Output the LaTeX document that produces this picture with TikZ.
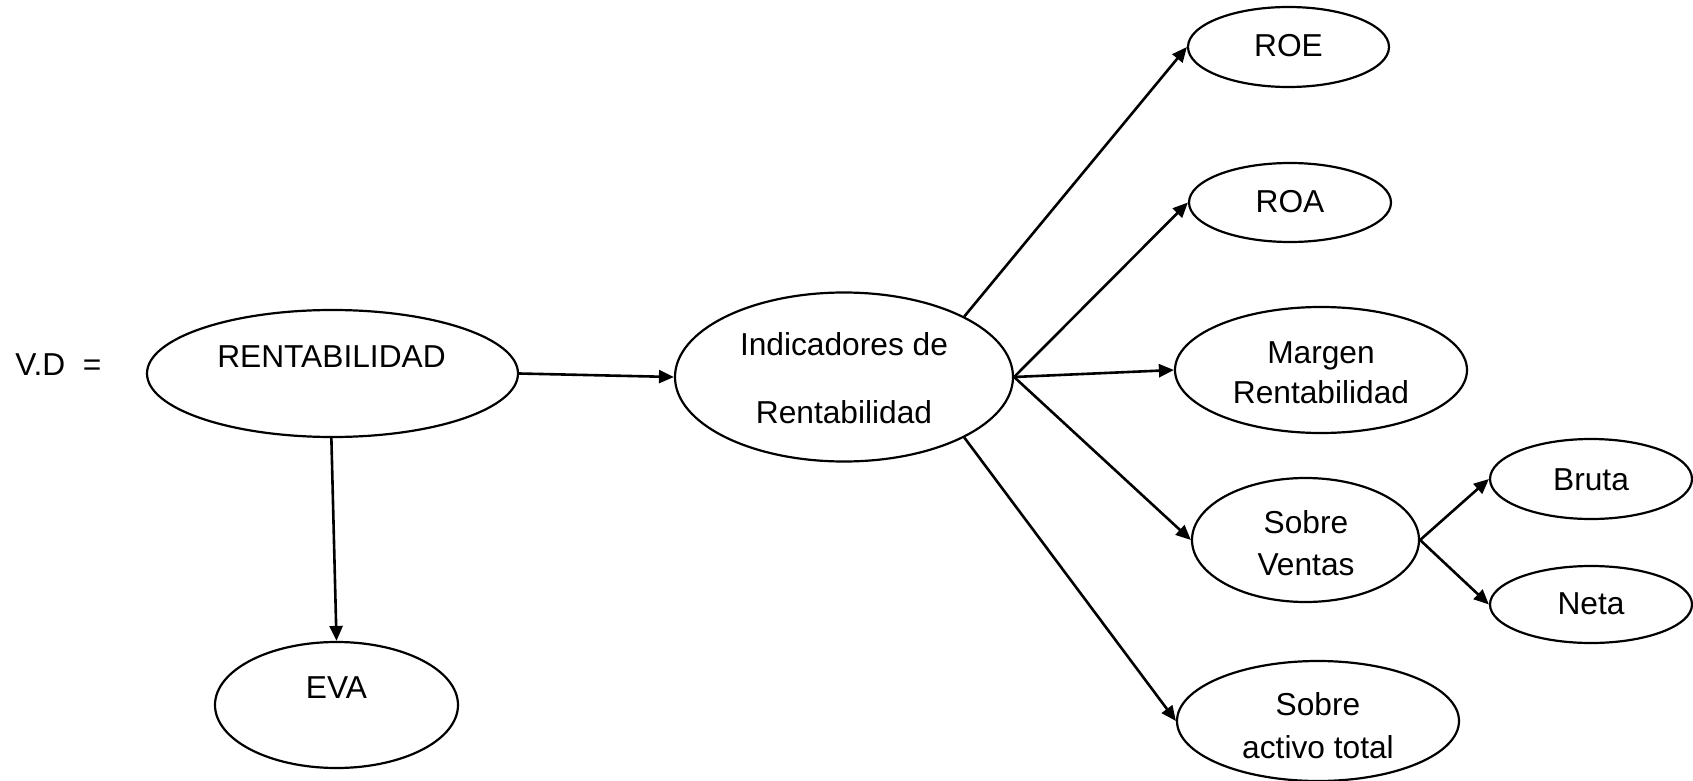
\documentclass[tikz,border=0pt]{standalone}
\usepackage{fontspec}
\setmainfont{Liberation Sans}
\usetikzlibrary{shapes.geometric,arrows.meta}
\tikzset{
  bubble/.style 2 args={ellipse, draw, line width=1.1pt, inner sep=0pt,
    minimum width=#1pt, minimum height=#2pt},
  label text/.style={anchor=base, inner sep=0pt,
    font=\fontsize{15.85}{19}\selectfont},
  link/.style={line width=1.3pt, -{Triangle[length=7.5pt,width=6.5pt]}}
}
\begin{document}
\begin{tikzpicture}[x=0.5pt, y=-0.5pt]
  \useasboundingbox (0,0) rectangle (1693,781);

  % ellipses
  \node[bubble={185.5}{63.5}] (rent) at (332.5,373.5) {};
  \node[bubble={121.5}{63}]   (eva)  at (336.5,705) {};
  \node[bubble={169}{84.5}]   (ind)  at (844,377) {};
  \node[bubble={100.5}{40}]   (roe)  at (1288.5,47) {};
  \node[bubble={101}{39.5}]   (roa)  at (1290,202.5) {};
  \node[bubble={146}{63}]     (mar)  at (1321,370) {};
  \node[bubble={113.5}{62}]   (sv)   at (1305.5,540) {};
  \node[bubble={101}{40}]     (bru)  at (1591,479) {};
  \node[bubble={101}{38.5}]   (net)  at (1591,604.5) {};
  \node[bubble={141}{60}]     (act)  at (1318,721) {};

  % texts
  \node[label text, anchor=base west] (vd) at (15,375) {V.D\ \ =};
  \node[label text] (trent) at (331.5,367) {RENTABILIDAD};
  \node[label text] (teva)  at (336.5,698) {EVA};
  \node[label text] (tind1) at (844,355) {Indicadores de};
  \node[label text] (tind2) at (844,423) {Rentabilidad};
  \node[label text] (troe)  at (1288.5,57) {ROE};
  \node[label text] (troa)  at (1290,213) {ROA};
  \node[label text] (tmar1) at (1321,363) {Margen};
  \node[label text] (tmar2) at (1321,403) {Rentabilidad};
  \node[label text] (tsv1)  at (1306,533) {Sobre};
  \node[label text] (tsv2)  at (1306,575) {Ventas};
  \node[label text] (tbru)  at (1591,490) {Bruta};
  \node[label text] (tnet)  at (1591,614) {Neta};
  \node[label text] (tact1) at (1318,715) {Sobre};
  \node[label text] (tact2) at (1318,758) {activo total};

  % connectors
  \draw[link] (rent.east) -- (ind.west);
  \draw[link] (rent.-91.5) -- (eva.north);
  \draw[link] (ind.north east) -- (roe.west);
  \draw[link] (ind.east) -- (roa.west);
  \draw[link] (ind.east) -- (mar.west);
  \draw[link] (ind.east) -- (sv.west);
  \draw[link] (ind.south east) -- (act.west);
  \draw[link] (sv.east) -- (bru.west);
  \draw[link] (sv.east) -- (net.west);
\end{tikzpicture}
\end{document}
